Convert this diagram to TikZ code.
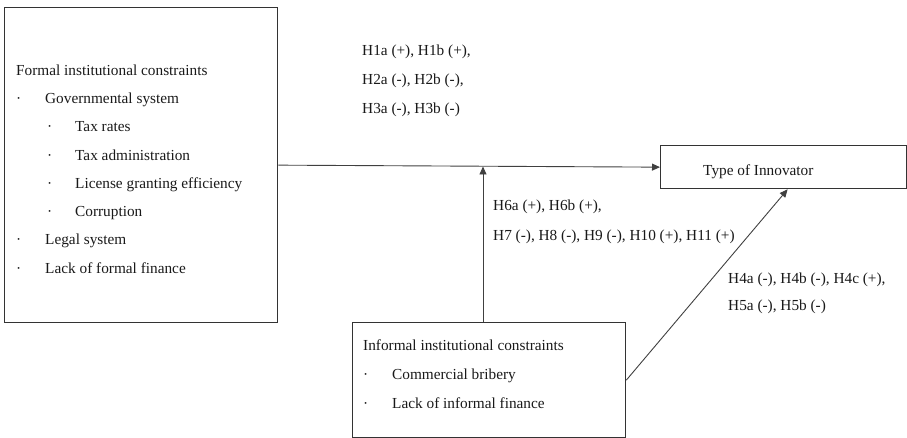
\documentclass[tikz,border=0pt]{standalone}
\usepackage{fontspec}
\setmainfont{Liberation Serif}
\usetikzlibrary{arrows.meta}
\newcommand{\bul}{\makebox[29pt][l]{\textperiodcentered}}
\newcommand{\subbul}{\hspace*{31pt}\makebox[28pt][l]{\textperiodcentered}}
\tikzset{
  box/.style={draw=black!80,line width=1.3pt,inner sep=0pt},
  txt/.style={anchor=west,align=left,inner sep=0pt,text=black!90,font=\fontsize{15.3}{28.3}\selectfont},
  hyp/.style={txt,font=\fontsize{15.3}{29}\selectfont},
  arr/.style={draw=black!75,line width=0.9pt,-{Triangle[length=8pt,width=7pt]}}
}
\begin{document}
\begin{tikzpicture}[x=1pt,y=-1pt]
\useasboundingbox(0,0)rectangle(907,438);
% boxes
\node[box,anchor=north west,minimum width=273pt,minimum height=315pt](formal)at(4,7){};
\node[box,anchor=north west,minimum width=246pt,minimum height=43pt](innovator)at(660,145){};
\node[box,anchor=north west,minimum width=273pt,minimum height=115pt](informal)at(352,322){};
% box texts
\node[txt](formaltext)at(16,169){Formal institutional constraints\\
\bul Governmental system\\
\subbul Tax rates\\
\subbul Tax administration\\
\subbul License granting efficiency\\
\subbul Corruption\\
\bul Legal system\\
\bul Lack of formal finance};
\node[txt](innovatortext)at(703,172){Type of Innovator};
\node[txt,font=\fontsize{15.3}{29}\selectfont](informaltext)at(363,374){Informal institutional constraints\\
\bul Commercial bribery\\
\bul Lack of informal finance};
% hypotheses
\node[hyp](hformal)at(362,81){H1a (+), H1b (+),\\H2a (-), H2b (-),\\H3a (-), H3b (-)};
\node[hyp,font=\fontsize{15.3}{30}\selectfont](hmod)at(493,222){H6a (+), H6b (+),\\H7 (-), H8 (-), H9 (-), H10 (+), H11 (+)};
\node[hyp,font=\fontsize{15.3}{27}\selectfont](hinformal)at(728,293.5){H4a (-), H4b (-), H4c (+),\\H5a (-), H5b (-)};
% connectors
\coordinate(meet)at(483,166.5);
\draw[arr](formal.east)--(innovator.west);
\draw[arr](informal.north-|meet)--(meet);
\draw[arr](informal.east)--([xshift=4pt]innovator.south);
\end{tikzpicture}
\end{document}
